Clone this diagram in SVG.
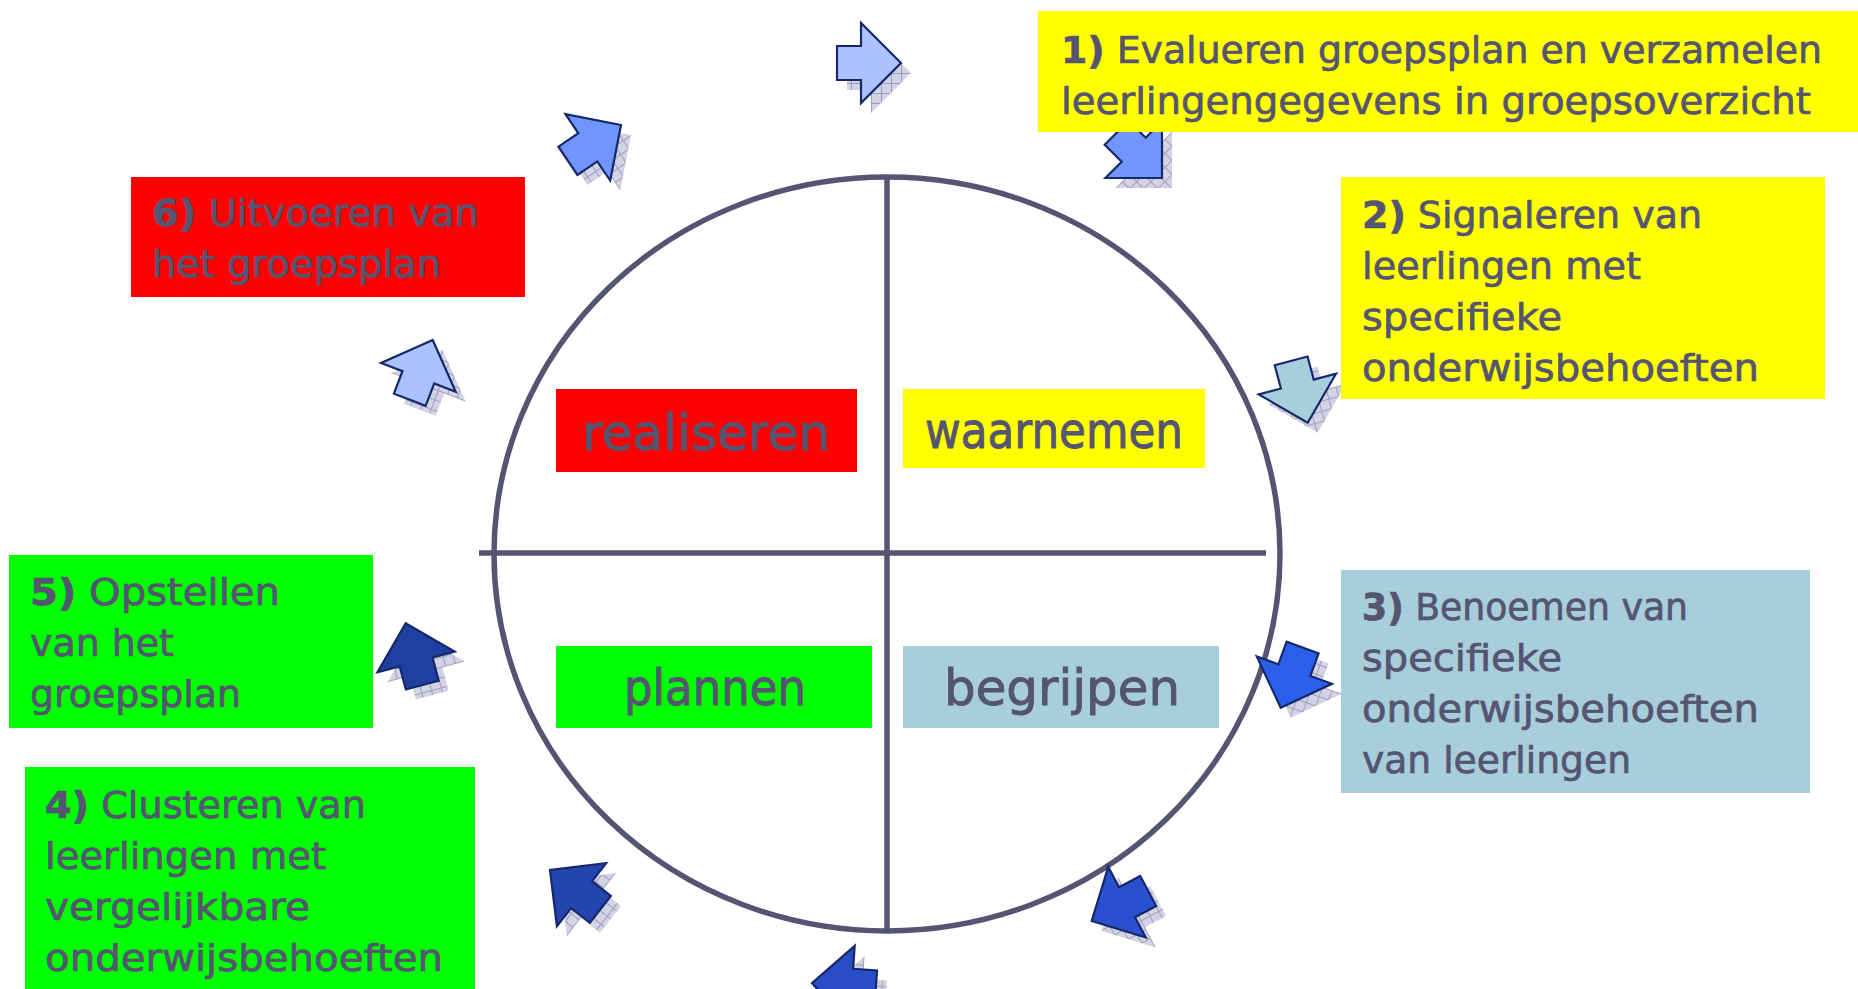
<svg xmlns="http://www.w3.org/2000/svg" xmlns:xlink="http://www.w3.org/1999/xlink" width="1858" height="989" viewBox="0 0 1858 989">
<defs>
<pattern id="hatch" patternUnits="userSpaceOnUse" width="10" height="10">
<rect width="10" height="10" fill="#d3d3e3"/>
<path d="M0 0.5H10M0.5 0V10" stroke="#9d9dc0" stroke-width="1"/>
</pattern>
<polygon id="arr" points="0,0 -40,-40 -40,-17 -64,-17 -64,17 -40,17 -40,40"/>
<style>
.ring{fill:none;stroke:#565473;stroke-width:5.5}
.t{font-family:"DejaVu Sans","Noto Sans",sans-serif;font-size:38px;fill:#555571;stroke:#555571;stroke-width:0.7}
.big{font-size:50px;stroke-width:0.9}
.b{font-weight:bold}
.sh{fill:url(#hatch)}
.ar{stroke:#15286a;stroke-width:2.2;stroke-linejoin:miter}
</style>
</defs>
<rect width="1858" height="989" fill="#ffffff"/>
<g id="cycle">
<ellipse class="ring" cx="887" cy="554" rx="393" ry="377"/>
<line class="ring" x1="887" y1="177" x2="887" y2="931"/>
<line class="ring" x1="479" y1="553" x2="1266" y2="553"/>
</g>
<g id="connectors">
<use href="#arr" class="sh" transform="translate(911,73) rotate(0)"/>
<use href="#arr" class="sh" transform="translate(1172,188) rotate(45)"/>
<use href="#arr" class="sh" transform="translate(631,135) rotate(-34)"/>
<use href="#arr" class="sh" transform="translate(442.7,350) rotate(-69)"/>
<use href="#arr" class="sh" transform="translate(1317.7,432.7) rotate(75)"/>
<use href="#arr" class="sh" transform="translate(1290.7,717.7) rotate(110)"/>
<use href="#arr" class="sh" transform="translate(1101.7,931) rotate(152)"/>
<use href="#arr" class="sh" transform="translate(822,993) rotate(184)"/>
<use href="#arr" class="sh" transform="translate(560,880) rotate(218)"/>
<use href="#arr" class="sh" transform="translate(415.7,633.3) rotate(255)"/>
<use href="#arr" class="ar" fill="#abc3fc" transform="translate(901,63) rotate(0)"/>
<use href="#arr" class="ar" fill="#7096fc" transform="translate(1162,178) rotate(45)"/>
<use href="#arr" class="ar" fill="#7096fc" transform="translate(621,125) rotate(-34)"/>
<use href="#arr" class="ar" fill="#abc3fc" transform="translate(432.7,340) rotate(-69)"/>
<use href="#arr" class="ar" fill="#a8cddb" transform="translate(1307.7,422.7) rotate(75)"/>
<use href="#arr" class="ar" fill="#2b5fe9" transform="translate(1280.7,707.7) rotate(110)"/>
<use href="#arr" class="ar" fill="#2a50cf" transform="translate(1091.7,921) rotate(152)"/>
<use href="#arr" class="ar" fill="#2a4cc6" transform="translate(812,983) rotate(184)"/>
<use href="#arr" class="ar" fill="#2444b0" transform="translate(550,870) rotate(218)"/>
<use href="#arr" class="ar" fill="#1f40a0" transform="translate(405.7,623.3) rotate(255)"/>
</g>
<g id="step1">
<rect x="1038" y="11" width="820" height="121" fill="#ffff00"/>
<text class="t" x="1061" y="63" textLength="761" lengthAdjust="spacingAndGlyphs"><tspan class="b">1)</tspan> Evalueren groepsplan en verzamelen</text>
<text class="t" x="1061" y="114" textLength="750" lengthAdjust="spacingAndGlyphs">leerlingengegevens in groepsoverzicht</text>
</g>
<g id="step2">
<rect x="1341" y="177" width="484" height="222" fill="#ffff00"/>
<text class="t" x="1362" y="228" textLength="340" lengthAdjust="spacingAndGlyphs"><tspan class="b">2)</tspan> Signaleren van</text>
<text class="t" x="1362" y="279" textLength="279" lengthAdjust="spacingAndGlyphs">leerlingen met</text>
<text class="t" x="1362" y="330" textLength="200" lengthAdjust="spacingAndGlyphs">specifieke</text>
<text class="t" x="1362" y="381" textLength="397" lengthAdjust="spacingAndGlyphs">onderwijsbehoeften</text>
</g>
<g id="step3">
<rect x="1341" y="570" width="469" height="223" fill="#a8cddb"/>
<text class="t" x="1362" y="620" textLength="326" lengthAdjust="spacingAndGlyphs"><tspan class="b">3)</tspan> Benoemen van</text>
<text class="t" x="1362" y="671" textLength="200" lengthAdjust="spacingAndGlyphs">specifieke</text>
<text class="t" x="1362" y="722" textLength="397" lengthAdjust="spacingAndGlyphs">onderwijsbehoeften</text>
<text class="t" x="1362" y="773" textLength="269" lengthAdjust="spacingAndGlyphs">van leerlingen</text>
</g>
<g id="step4">
<rect x="25" y="767" width="450" height="222" fill="#00ff00"/>
<text class="t" x="45" y="818" textLength="321" lengthAdjust="spacingAndGlyphs"><tspan class="b">4)</tspan> Clusteren van</text>
<text class="t" x="45" y="869" textLength="281" lengthAdjust="spacingAndGlyphs">leerlingen met</text>
<text class="t" x="45" y="920" textLength="265" lengthAdjust="spacingAndGlyphs">vergelijkbare</text>
<text class="t" x="45" y="971" textLength="398" lengthAdjust="spacingAndGlyphs">onderwijsbehoeften</text>
</g>
<g id="step5">
<rect x="9" y="555" width="364" height="173" fill="#00ff00"/>
<text class="t" x="30" y="605" textLength="250" lengthAdjust="spacingAndGlyphs"><tspan class="b">5)</tspan> Opstellen</text>
<text class="t" x="30" y="656" textLength="144" lengthAdjust="spacingAndGlyphs">van het</text>
<text class="t" x="30" y="707" textLength="211" lengthAdjust="spacingAndGlyphs">groepsplan</text>
</g>
<g id="step6">
<rect x="131" y="177" width="394" height="120" fill="#ff0000"/>
<text class="t" x="152" y="226" textLength="327" lengthAdjust="spacingAndGlyphs"><tspan class="b">6)</tspan> Uitvoeren van</text>
<text class="t" x="152" y="277" textLength="289" lengthAdjust="spacingAndGlyphs">het groepsplan</text>
</g>
<g id="realiseren">
<rect x="556" y="389" width="301" height="83" fill="#ff0000"/>
<text class="t big" x="582" y="450" textLength="248" lengthAdjust="spacingAndGlyphs">realiseren</text>
</g>
<g id="waarnemen">
<rect x="903" y="389" width="302" height="79" fill="#ffff00"/>
<text class="t big" x="925" y="448" textLength="258" lengthAdjust="spacingAndGlyphs">waarnemen</text>
</g>
<g id="plannen">
<rect x="556" y="646" width="316" height="82" fill="#00ff00"/>
<text class="t big" x="624" y="705" textLength="182" lengthAdjust="spacingAndGlyphs">plannen</text>
</g>
<g id="begrijpen">
<rect x="903" y="646" width="316" height="82" fill="#a8cddb"/>
<text class="t big" x="944" y="705" textLength="236" lengthAdjust="spacingAndGlyphs">begrijpen</text>
</g>
</svg>
